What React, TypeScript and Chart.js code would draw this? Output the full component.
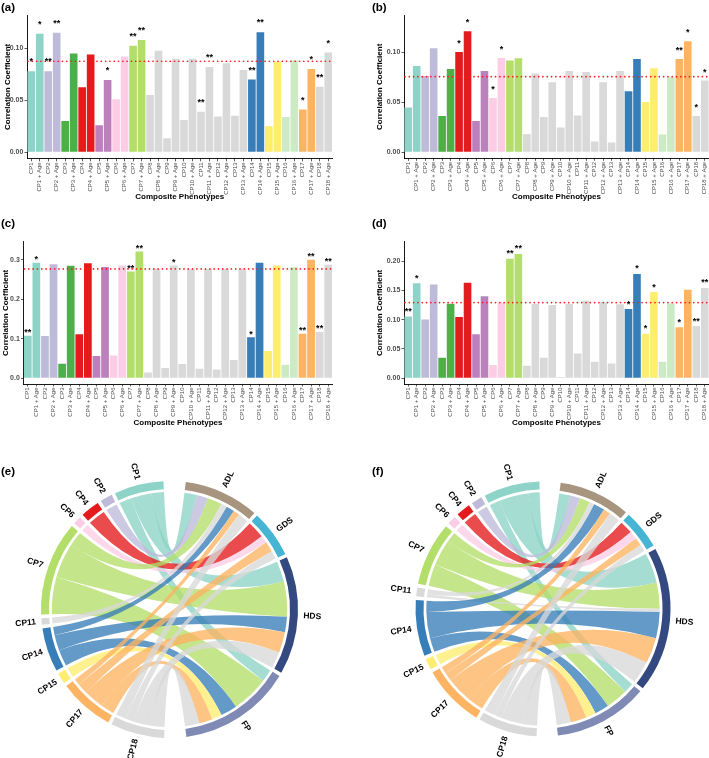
import React, { useEffect, useRef } from "react";
import { Chart, registerables } from "chart.js";
Chart.register(...registerables);

const FONT = "'Liberation Sans', Arial, Helvetica, sans-serif";

// ---------- data ----------
const categories = [
  "CP1", "CP1 + Age", "CP2", "CP2 + Age", "CP3", "CP3 + Age", "CP4", "CP4 + Age",
  "CP5", "CP5 + Age", "CP6", "CP6 + Age", "CP7", "CP7 + Age", "CP8", "CP8 + Age",
  "CP9", "CP9 + Age", "CP10", "CP10 + Age", "CP11", "CP11 + Age", "CP12", "CP12 + Age",
  "CP13", "CP13 + Age", "CP14", "CP14 + Age", "CP15", "CP15 + Age", "CP16", "CP16 + Age",
  "CP17", "CP17 + Age", "CP18", "CP18 + Age",
];

const phenotypeColors = [
  "#8DD3C7", "#BEBADA", "#4DAF4A", "#E41A1C", "#BC80BD", "#FCCDE5", "#B3DE69",
  "#D9D9D9", "#D9D9D9", "#D9D9D9", "#D9D9D9", "#D9D9D9", "#D9D9D9",
  "#377EB8", "#FFED6F", "#CCEBC5", "#FDB462", "#D9D9D9",
];

const valuesA = [
  0.078, 0.114, 0.078, 0.115, 0.030, 0.095, 0.0625, 0.094, 0.026, 0.0695, 0.051, 0.092,
  0.1025, 0.108, 0.055, 0.0975, 0.0135, 0.090, 0.031, 0.090, 0.039, 0.082, 0.0345, 0.0855,
  0.035, 0.079, 0.070, 0.1155, 0.025, 0.087, 0.034, 0.0885, 0.041, 0.080, 0.063, 0.096,
];
const starsA = [
  "*", "*", "**", "**", "", "", "", "", "", "*", "", "",
  "**", "**", "", "", "", "", "", "", "**", "**", "", "",
  "", "", "**", "**", "", "", "", "", "*", "*", "**", "*",
];
const thresholdA = 0.0875;
const ticksA = [0, 0.05, 0.1];

const valuesB = [
  0.0447, 0.0863, 0.0763, 0.104, 0.0363, 0.0833, 0.1003, 0.121, 0.0313, 0.0813, 0.0543, 0.0943,
  0.0917, 0.094, 0.018, 0.0787, 0.0353, 0.070, 0.0247, 0.0813, 0.0367, 0.0803, 0.0107, 0.070,
  0.0097, 0.0813, 0.061, 0.0933, 0.0503, 0.084, 0.0177, 0.075, 0.0933, 0.111, 0.0363, 0.0717,
];
const starsB = [
  "", "", "", "", "", "", "*", "*", "", "", "*", "*",
  "", "", "", "", "", "", "", "", "", "", "", "",
  "", "", "", "", "", "", "", "", "**", "*", "*", "*",
];
const thresholdB = 0.0756;
const ticksB = [0, 0.05, 0.1];

const valuesC = [
  0.108, 0.2925, 0.107, 0.289, 0.037, 0.285, 0.1115, 0.2915, 0.0565, 0.282, 0.058, 0.2855,
  0.2705, 0.321, 0.0145, 0.277, 0.026, 0.2855, 0.036, 0.277, 0.024, 0.277, 0.022, 0.277,
  0.0465, 0.277, 0.104, 0.2925, 0.069, 0.2855, 0.034, 0.2815, 0.113, 0.300, 0.1175, 0.2875,
];
const starsC = [
  "**", "*", "", "", "", "", "", "", "", "", "", "",
  "**", "**", "", "", "", "*", "", "", "", "", "", "",
  "", "", "*", "", "", "", "", "", "**", "**", "**", "**",
];
const thresholdC = 0.277;
const ticksC = [0, 0.1, 0.2, 0.3];

const valuesD = [
  0.1054, 0.162, 0.100, 0.160, 0.035, 0.127, 0.1045, 0.163, 0.075, 0.140, 0.0225, 0.129,
  0.204, 0.212, 0.021, 0.127, 0.035, 0.125, 0.002, 0.127, 0.042, 0.132, 0.028, 0.130,
  0.025, 0.126, 0.118, 0.178, 0.076, 0.147, 0.028, 0.128, 0.087, 0.151, 0.089, 0.154,
];
const starsD = [
  "**", "*", "", "", "", "", "", "", "", "", "", "",
  "**", "**", "", "", "", "", "", "", "", "", "", "",
  "", "", "*", "*", "*", "*", "", "", "*", "", "**", "**",
];
const thresholdD = 0.129;
const ticksD = [0, 0.05, 0.1, 0.15, 0.2];

// chord diagrams
const chordRows = ["CP1", "CP2", "CP4", "CP6", "CP7", "CP11", "CP14", "CP15", "CP17", "CP18"];
const chordCols = ["ADL", "GDS", "HDS", "FP"];
const outcomeColors = ["#A8957F", "#46B5D3", "#34497F", "#7F8BB4"];
const flowsE = [
  [6, 0, 10, 6],
  [5.5, 0, 0, 0],
  [0, 8.4, 0, 0],
  [0, 3.6, 0, 0],
  [7, 0, 17, 18],
  [2.9, 0, 0, 0],
  [4, 0, 7.5, 8],
  [0, 0, 0, 4.8],
  [3, 5, 10, 6.5],
  [5, 4, 8, 7],
];
const flowsF = [
  [5.5, 0, 15, 5],
  [5, 0, 0, 0],
  [0, 6.5, 0, 0],
  [0, 4, 0, 0],
  [5, 0, 13, 11],
  [2.5, 0, 1.5, 0],
  [5.5, 0, 13, 7],
  [0, 0, 0, 5],
  [3.5, 4, 13, 8],
  [5.5, 3.4, 11, 7],
];

// ---------- bar panel ----------
type Box = { left: number; top: number; width: number; height: number };
type BarSpec = {
  values: number[];
  stars: string[];
  threshold: number;
  yMin: number;
  yMax: number;
  yTicks: number[];
  decimals: number;
  box: Box;
  plot: { left: number; right: number; top: number; bottom: number };
  yTitleX: number;
  xTitleY: number;
  starGap: number;
};

const barSpecs: BarSpec[] = [
  {
    values: valuesA, stars: starsA, threshold: thresholdA, yMin: -0.0063, yMax: 0.132, yTicks: ticksA, decimals: 2,
    box: { left: 0, top: 0, width: 355, height: 205 },
    plot: { left: 27, right: 332.5, top: 15, bottom: 158.8 },
    yTitleX: 7.5, xTitleY: 197, starGap: 12,
  },
  {
    values: valuesB, stars: starsB, threshold: thresholdB, yMin: -0.006, yMax: 0.137, yTicks: ticksB, decimals: 2,
    box: { left: 355, top: 0, width: 354, height: 205 },
    plot: { left: 404, right: 709, top: 15.3, bottom: 158.3 },
    yTitleX: 380, xTitleY: 196.7, starGap: 11.3,
  },
  {
    values: valuesC, stars: starsC, threshold: thresholdC, yMin: -0.0145, yMax: 0.346, yTicks: ticksC, decimals: 1,
    box: { left: 0, top: 200, width: 355, height: 230 },
    plot: { left: 23.5, right: 332.5, top: 241.7, bottom: 384 },
    yTitleX: 5.5, xTitleY: 423, starGap: 5.7,
  },
  {
    values: valuesD, stars: starsD, threshold: thresholdD, yMin: -0.01, yMax: 0.233, yTicks: ticksD, decimals: 2,
    box: { left: 355, top: 200, width: 354, height: 230 },
    plot: { left: 404, right: 709, top: 241.7, bottom: 384 },
    yTitleX: 380, xTitleY: 422.7, starGap: 7.7,
  },
];

function BarPanel({ spec }: { spec: BarSpec }) {
  const ref = useRef<HTMLCanvasElement>(null);
  useEffect(() => {
    const canvas = ref.current;
    if (!canvas) return;
    const { box, plot } = spec;
    const titleSize = 8;
    const lineH = titleSize * 1.2;

    const thresholdPlugin = {
      id: "thresholdLine",
      afterDatasetsDraw(chart: any) {
        const { ctx, chartArea } = chart;
        const y = chart.scales.y.getPixelForValue(spec.threshold);
        ctx.save();
        ctx.strokeStyle = "#FF1A1A";
        ctx.lineWidth = 1.7;
        ctx.lineCap = "round";
        ctx.setLineDash([0.01, 4.3]);
        ctx.beginPath();
        ctx.moveTo(chartArea.left + 1, y);
        ctx.lineTo(chartArea.right, y);
        ctx.stroke();
        ctx.restore();
      },
    };

    const starPlugin = {
      id: "stars",
      afterDatasetsDraw(chart: any) {
        const { ctx } = chart;
        const bars = chart.getDatasetMeta(0).data;
        ctx.save();
        ctx.fillStyle = "#000";
        ctx.font = `bold 9px ${FONT}`;
        ctx.textAlign = "center";
        ctx.textBaseline = "alphabetic";
        spec.stars.forEach((s, i) => {
          if (!s) return;
          const b = bars[i];
          ctx.fillText(s, b.x, b.y - spec.starGap + 5.2);
        });
        ctx.restore();
      },
    };

    const chart = new Chart(canvas, {
      type: "bar",
      data: {
        labels: categories,
        datasets: [
          {
            data: spec.values,
            backgroundColor: categories.map((_, i) => phenotypeColors[Math.floor(i / 2)]),
            borderWidth: 0,
            barPercentage: 0.9,
            categoryPercentage: 1,
          },
        ],
      },
      options: {
        animation: false,
        responsive: false,
        maintainAspectRatio: false,
        events: [],
        layout: {
          padding: {
            left: 0,
            top: plot.top - box.top,
            right: box.left + box.width - plot.right,
            bottom: 0,
          },
        },
        plugins: {
          legend: { display: false },
          tooltip: { enabled: false },
        },
        scales: {
          x: {
            offset: true,
            grid: {
              display: true,
              drawOnChartArea: false,
              drawTicks: true,
              tickLength: 2.5,
              tickWidth: 0.8,
              color: "#333333",
              offset: false,
            },
            border: { display: true, color: "#000000", width: 0.9 },
            ticks: {
              autoSkip: false,
              maxRotation: 90,
              minRotation: 90,
              padding: 1,
              color: "#4D4D4D",
              font: { family: FONT, size: 6 },
            },
            title: {
              display: true,
              text: "Composite Phenotypes",
              color: "#000",
              font: { family: FONT, size: titleSize, weight: "bold" },
              padding: { top: 0, bottom: box.top + box.height - spec.xTitleY - lineH / 2 },
            },
            afterFit: (s: any) => {
              s.height = box.top + box.height - plot.bottom;
              s.paddingLeft = 0;
              s.paddingRight = 0;
            },
          } as any,
          y: {
            min: spec.yMin,
            max: spec.yMax,
            afterBuildTicks: (s: any) => {
              s.ticks = spec.yTicks.map((v) => ({ value: v }));
            },
            grid: {
              display: true,
              drawOnChartArea: false,
              drawTicks: true,
              tickLength: 2.5,
              tickWidth: 0.8,
              color: "#333333",
            },
            border: { display: true, color: "#000000", width: 0.9 },
            ticks: {
              padding: 1.2,
              color: "#4D4D4D",
              font: { family: FONT, size: 7, weight: "bold" },
              callback: (v: any) => Number(v).toFixed(spec.decimals),
            },
            title: {
              display: true,
              text: "Correlation Coefficient",
              color: "#000",
              font: { family: FONT, size: titleSize, weight: "bold" },
              padding: { top: Math.max(spec.yTitleX - box.left - lineH / 2, 0), bottom: 0 },
            },
            afterFit: (s: any) => {
              s.width = plot.left - box.left;
              s.paddingTop = 0;
              s.paddingBottom = 0;
            },
          } as any,
        },
      },
      plugins: [thresholdPlugin, starPlugin],
    });
    return () => chart.destroy();
  }, [spec]);
  const { box } = spec;
  return (
    <canvas
      ref={ref}
      width={box.width}
      height={box.height}
      style={{ position: "absolute", left: box.left, top: box.top, width: box.width, height: box.height }}
    />
  );
}

// ---------- chord panel ----------
type ChordSpec = {
  flows: number[][];
  box: Box;
  cx: number;
  cy: number;
  r: number;
  rotation: number;
  gapSmall: number;
  gapBig: number;
};

const chordSpecs: ChordSpec[] = [
  { flows: flowsE, box: { left: 0, top: 440, width: 355, height: 318 }, cx: 169.5, cy: 609.5, r: 128.5, rotation: 7.3, gapSmall: 1.6, gapBig: 9.8 },
  { flows: flowsF, box: { left: 355, top: 440, width: 354, height: 318 }, cx: 543, cy: 609, r: 127.5, rotation: 8, gapSmall: 1.7, gapBig: 9.6 },
];

function hexA(hex: string, a: number) {
  const n = parseInt(hex.slice(1), 16);
  return `rgba(${(n >> 16) & 255},${(n >> 8) & 255},${n & 255},${a})`;
}

function ChordPanel({ spec }: { spec: ChordSpec }) {
  const ref = useRef<HTMLCanvasElement>(null);
  useEffect(() => {
    const canvas = ref.current;
    if (!canvas) return;
    const { flows, box } = spec;
    const rowColors = chordRows.map((n) => phenotypeColors[parseInt(n.slice(2), 10) - 1]);
    const rowSums = flows.map((r) => r.reduce((a, b) => a + b, 0));
    const colSums = chordCols.map((_, j) => flows.reduce((a, r) => a + r[j], 0));

    const labels: string[] = [];
    const values: number[] = [];
    const colors: string[] = [];
    const refs: { kind: "row" | "col" | "gap"; idx: number }[] = [];
    const add = (label: string, value: number, color: string, kind: "row" | "col" | "gap", idx: number) => {
      labels.push(label);
      values.push(value);
      colors.push(color);
      refs.push({ kind, idx });
    };
    const clear = "rgba(0,0,0,0)";
    chordCols.forEach((c, j) => {
      if (j > 0) add("", spec.gapSmall, clear, "gap", -1);
      add(c, colSums[j], outcomeColors[j], "col", j);
    });
    add("", spec.gapBig, clear, "gap", -1);
    for (let k = chordRows.length - 1; k >= 0; k--) {
      if (k < chordRows.length - 1) add("", spec.gapSmall, clear, "gap", -1);
      add(chordRows[k], rowSums[k], rowColors[k], "row", k);
    }
    add("", spec.gapBig, clear, "gap", -1);

    const chordPlugin = {
      id: "chordRibbons",
      beforeDatasetsDraw(chart: any) {
        const { ctx } = chart;
        const arcs = chart.getDatasetMeta(0).data;
        const rowArc: any[] = [];
        const colArc: any[] = [];
        refs.forEach((r, i) => {
          if (r.kind === "row") rowArc[r.idx] = arcs[i];
          else if (r.kind === "col") colArc[r.idx] = arcs[i];
        });
        const cx = arcs[0].x;
        const cy = arcs[0].y;
        const rad = arcs[0].innerRadius - 2.8;
        const rowSeg: (number[] | null)[][] = chordRows.map(() => chordCols.map(() => null));
        const colSeg: (number[] | null)[][] = chordRows.map(() => chordCols.map(() => null));
        chordRows.forEach((_, i) => {
          const a = rowArc[i];
          const k = (a.endAngle - a.startAngle) / rowSums[i];
          let cur = a.startAngle;
          for (let j = chordCols.length - 1; j >= 0; j--) {
            const v = flows[i][j];
            if (v > 0) {
              rowSeg[i][j] = [cur, cur + v * k];
              cur += v * k;
            }
          }
        });
        chordCols.forEach((_, j) => {
          const a = colArc[j];
          const k = (a.endAngle - a.startAngle) / colSums[j];
          let cur = a.startAngle;
          for (let i = 0; i < chordRows.length; i++) {
            const v = flows[i][j];
            if (v > 0) {
              colSeg[i][j] = [cur, cur + v * k];
              cur += v * k;
            }
          }
        });
        ctx.save();
        for (let i = 0; i < chordRows.length; i++) {
          for (let j = 0; j < chordCols.length; j++) {
            const rs = rowSeg[i][j];
            const cs = colSeg[i][j];
            if (!rs || !cs) continue;
            const [a1, a2] = rs;
            const [b1, b2] = cs;
            ctx.beginPath();
            ctx.arc(cx, cy, rad, a1, a2);
            ctx.quadraticCurveTo(cx, cy, cx + rad * Math.cos(b1), cy + rad * Math.sin(b1));
            ctx.arc(cx, cy, rad, b1, b2);
            ctx.quadraticCurveTo(cx, cy, cx + rad * Math.cos(a1), cy + rad * Math.sin(a1));
            ctx.closePath();
            ctx.fillStyle = hexA(rowColors[i], 0.78);
            ctx.fill();
          }
        }
        ctx.restore();
      },
      afterDatasetsDraw(chart: any) {
        const { ctx } = chart;
        const arcs = chart.getDatasetMeta(0).data;
        ctx.save();
        ctx.fillStyle = "#000";
        ctx.font = `bold 8.5px ${FONT}`;
        ctx.textBaseline = "middle";
        refs.forEach((r, i) => {
          if (r.kind === "gap") return;
          const a = arcs[i];
          const m = (a.startAngle + a.endAngle) / 2;
          const R = a.outerRadius + 5.5;
          ctx.save();
          ctx.translate(a.x, a.y);
          if (Math.cos(m) >= 0) {
            ctx.rotate(m);
            ctx.textAlign = "left";
            ctx.fillText(labels[i], R, 0);
          } else {
            ctx.rotate(m + Math.PI);
            ctx.textAlign = "right";
            ctx.fillText(labels[i], -R, 0);
          }
          ctx.restore();
        });
        ctx.restore();
      },
    };

    const chart = new Chart(canvas, {
      type: "doughnut",
      data: {
        labels,
        datasets: [
          {
            data: values,
            backgroundColor: colors,
            borderWidth: 0,
            hoverOffset: 0,
            offset: 0,
          } as any,
        ],
      },
      options: {
        animation: false,
        responsive: false,
        maintainAspectRatio: false,
        events: [],
        rotation: spec.rotation,
        circumference: 360,
        cutout: `${((spec.r - 8) / spec.r) * 100}%`,
        layout: {
          padding: {
            left: spec.cx - spec.r - box.left,
            top: spec.cy - spec.r - box.top,
            right: box.left + box.width - (spec.cx + spec.r),
            bottom: box.top + box.height - (spec.cy + spec.r),
          },
        },
        plugins: {
          legend: { display: false },
          tooltip: { enabled: false },
        },
      } as any,
      plugins: [chordPlugin],
    });
    return () => chart.destroy();
  }, [spec]);
  const { box } = spec;
  return (
    <canvas
      ref={ref}
      width={box.width}
      height={box.height}
      style={{ position: "absolute", left: box.left, top: box.top, width: box.width, height: box.height }}
    />
  );
}

const panelLabels = [
  { text: "(a)", left: 1, top: 1 },
  { text: "(b)", left: 372, top: 1 },
  { text: "(c)", left: 1, top: 217 },
  { text: "(d)", left: 372, top: 217 },
  { text: "(e)", left: 1, top: 465 },
  { text: "(f)", left: 372, top: 465 },
];

export default function App() {
  return (
    <div
      style={{
        position: "absolute",
        left: 0,
        top: 0,
        width: 709,
        height: 758,
        background: "#ffffff",
        overflow: "hidden",
        fontFamily: FONT,
      }}
    >
      {barSpecs.map((s, i) => (
        <BarPanel key={`bar${i}`} spec={s} />
      ))}
      {chordSpecs.map((s, i) => (
        <ChordPanel key={`chord${i}`} spec={s} />
      ))}
      {panelLabels.map((p) => (
        <div
          key={p.text}
          style={{
            position: "absolute",
            left: p.left,
            top: p.top,
            fontSize: 11.5,
            fontWeight: "bold",
            lineHeight: "12px",
            color: "#000",
          }}
        >
          {p.text}
        </div>
      ))}
    </div>
  );
}
